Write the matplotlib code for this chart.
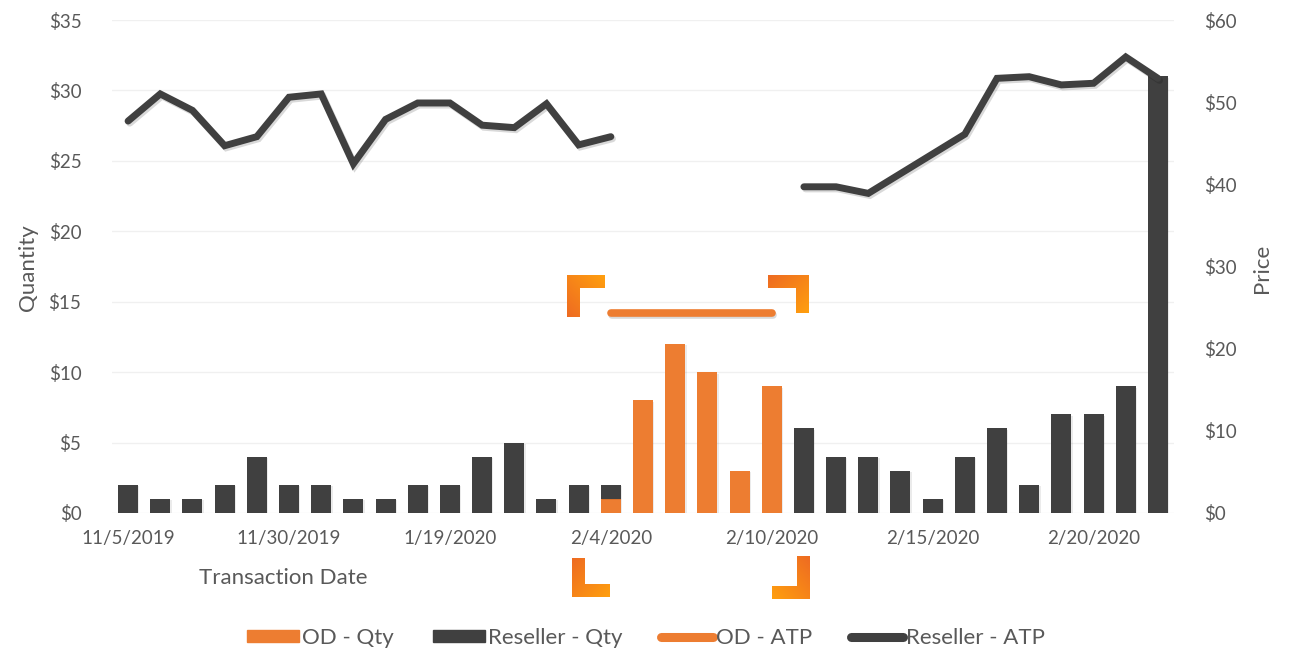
import numpy as np
import matplotlib
matplotlib.use("Agg")
import matplotlib.pyplot as plt
import matplotlib.patheffects as pe
from matplotlib.patches import Rectangle, Polygon
from matplotlib.lines import Line2D
from matplotlib.colors import LinearSegmentedColormap

plt.rcParams['font.family'] = ['Lato', 'DejaVu Sans']

# ---- data -------------------------------------------------------------
dates = ["11/5/2019", "11/10/2019", "11/14/2019", "11/20/2019", "11/25/2019",
         "11/30/2019", "12/5/2019", "12/12/2019", "12/20/2019", "1/2/2020",
         "1/19/2020", "1/22/2020", "1/25/2020", "1/28/2020", "2/1/2020",
         "2/4/2020", "2/5/2020", "2/6/2020", "2/7/2020", "2/8/2020",
         "2/10/2020", "2/11/2020", "2/12/2020", "2/13/2020", "2/14/2020",
         "2/15/2020", "2/16/2020", "2/17/2020", "2/18/2020", "2/19/2020",
         "2/20/2020", "2/21/2020", "2/22/2020"]

od_qty = [0, 0, 0, 0, 0, 0, 0, 0, 0, 0, 0, 0, 0, 0, 0,
          1, 8, 12, 10, 3, 9,
          0, 0, 0, 0, 0, 0, 0, 0, 0, 0, 0, 0]

reseller_qty = [2, 1, 1, 2, 4, 2, 2, 1, 1, 2, 2, 4, 5, 1, 2,
                1, 0, 0, 0, 0, 0,
                6, 4, 4, 3, 1, 4, 6, 2, 7, 7, 9, 31]

nan = np.nan
od_atp = [nan] * 15 + [24.3, 24.3, 24.3, 24.3, 24.3, 24.3] + [nan] * 12

reseller_atp = [47.7, 51.0, 49.0, 44.7, 45.8, 50.6, 51.0, 42.5, 47.9, 49.9,
                49.9, 47.2, 46.9, 49.8, 44.8, 45.8,
                nan, nan, nan, nan, nan,
                39.7, 39.7, 38.9, 41.3, 43.7, 46.1, 52.9, 53.1, 52.1, 52.3,
                55.5, 52.9]

qty_ticks = [0, 5, 10, 15, 20, 25, 30, 35]
price_ticks = [0, 10, 20, 30, 40, 50, 60]

# ---- style ------------------------------------------------------------
ORANGE = "#ED7D31"
DARK = "#404040"
TEXT = "#595959"
GRID = "#F0F0F0"
FS = 13.5    # tick labels
FS_T = 16    # axis titles and legend

W, H = 1294, 655
fig = plt.figure(figsize=(W / 100, H / 100), dpi=100)
fig.patch.set_facecolor("white")

x = np.arange(len(dates))
left, right = 112, 1174
top, bottom = 20, 513
ax = fig.add_axes([left / W, 1 - bottom / H, (right - left) / W, (bottom - top) / H])

bar_shadow = [pe.withSimplePatchShadow(offset=(1.0, -1.0), alpha=0.08, shadow_rgbFace="k")]
bw = 0.62
b1 = ax.bar(x, od_qty, width=bw, color=ORANGE, zorder=3)
b2 = ax.bar(x, reseller_qty, width=bw, bottom=od_qty, color=DARK, zorder=3)
for rect in list(b1) + list(b2):
    rect.set_path_effects(bar_shadow)

ax.set_xlim(-0.5, len(dates) - 0.5)
ax.set_ylim(0, 35)
ax.set_yticks(qty_ticks)
ax.set_yticklabels([f"${v}" for v in qty_ticks])
ax.set_xticks(x[::5])
ax.set_xticklabels(dates[::5])
ax.grid(axis="y", color=GRID, linewidth=1, zorder=0)
ax.set_axisbelow(True)
for s in ax.spines.values():
    s.set_visible(False)
ax.tick_params(axis="both", length=0, colors=TEXT, labelsize=FS)
ax.tick_params(axis="y", pad=22)
ax.tick_params(axis="x", pad=12)

ax2 = ax.twinx()
ax2.set_ylim(0, 60)
ax2.set_yticks(price_ticks)
ax2.set_yticklabels([f"${v}" for v in price_ticks])
for s in ax2.spines.values():
    s.set_visible(False)
ax2.tick_params(axis="y", length=0, colors=TEXT, labelsize=FS, pad=22)

line_shadow = [pe.SimpleLineShadow(offset=(1.2, -1.5), alpha=0.15, shadow_color="k"), pe.Normal()]
ax2.plot(x, od_atp, color=ORANGE, lw=5.5, solid_capstyle="round",
         path_effects=line_shadow, zorder=4)
ax2.plot(x, reseller_atp, color=DARK, lw=5, solid_capstyle="round",
         solid_joinstyle="miter", path_effects=line_shadow, zorder=4)

fig.text(28 / W, 1 - 268 / H, "Quantity", rotation=90, ha="center", va="center",
         color=TEXT, fontsize=FS_T)
fig.text(1262 / W, 1 - 268 / H, "Price", rotation=90, ha="center", va="center",
         color=TEXT, fontsize=FS_T)
fig.text(283 / W, 1 - 578 / H, "Transaction Date", ha="center", va="center",
         color=TEXT, fontsize=FS_T)

handles = [
    Rectangle((0, 0), 1, 1, color=ORANGE),
    Rectangle((0, 0), 1, 1, color=DARK),
    Line2D([0], [0], color=ORANGE, lw=6.5, solid_capstyle="round"),
    Line2D([0], [0], color=DARK, lw=6.5, solid_capstyle="round"),
]
labels = ["OD - Qty", "Reseller - Qty", "OD - ATP", "Reseller - ATP"]
leg = fig.legend(handles, labels, loc="center", bbox_to_anchor=(646 / W, 1 - 638 / H),
                 ncol=4, frameon=False, fontsize=FS_T, handlelength=2.35, handleheight=0.5,
                 handletextpad=0.12, columnspacing=1.75, labelcolor=TEXT)

# ---- corner brackets framing the OD period -------------------------------
ov = fig.add_axes([0, 0, 1, 1], zorder=10)
ov.axis("off")
ov.patch.set_alpha(0)

grad = LinearSegmentedColormap.from_list("brk", ["#EE6B22", "#FF9F0F"])

def bracket(pts, direction):
    xs = [p[0] for p in pts]
    ys = [p[1] for p in pts]
    x0, x1, y0, y1 = min(xs), max(xs), min(ys), max(ys)
    poly = Polygon(pts, closed=True, facecolor="none", edgecolor="none")
    ov.add_patch(poly)
    gx, gy = np.meshgrid(np.linspace(0, 1, 60), np.linspace(0, 1, 60))
    dx, dy = direction
    g = gx * dx + gy * dy
    g = (g - g.min()) / (g.max() - g.min())
    im = ov.imshow(g, cmap=grad, extent=(x0, x1, y1, y0), origin="upper",
                   interpolation="bilinear", aspect="auto")
    im.set_clip_path(poly)

t = 13
bracket([(567, 275), (605, 275), (605, 275 + t), (567 + t, 275 + t), (567 + t, 317), (567, 317)], (1, -1))
bracket([(768, 275), (809, 275), (809, 313), (809 - t, 313), (809 - t, 275 + t), (768, 275 + t)], (1, 1))
bracket([(572, 558), (572 + t, 558), (572 + t, 597 - t), (610, 597 - t), (610, 597), (572, 597)], (1, 1))
bracket([(810 - t, 556), (810, 556), (810, 599), (772, 599), (772, 599 - t), (810 - t, 599 - t)], (-1, 1))
ov.set_xlim(0, W)
ov.set_ylim(H, 0)

fig.savefig("out.png", dpi=100, facecolor="white")
